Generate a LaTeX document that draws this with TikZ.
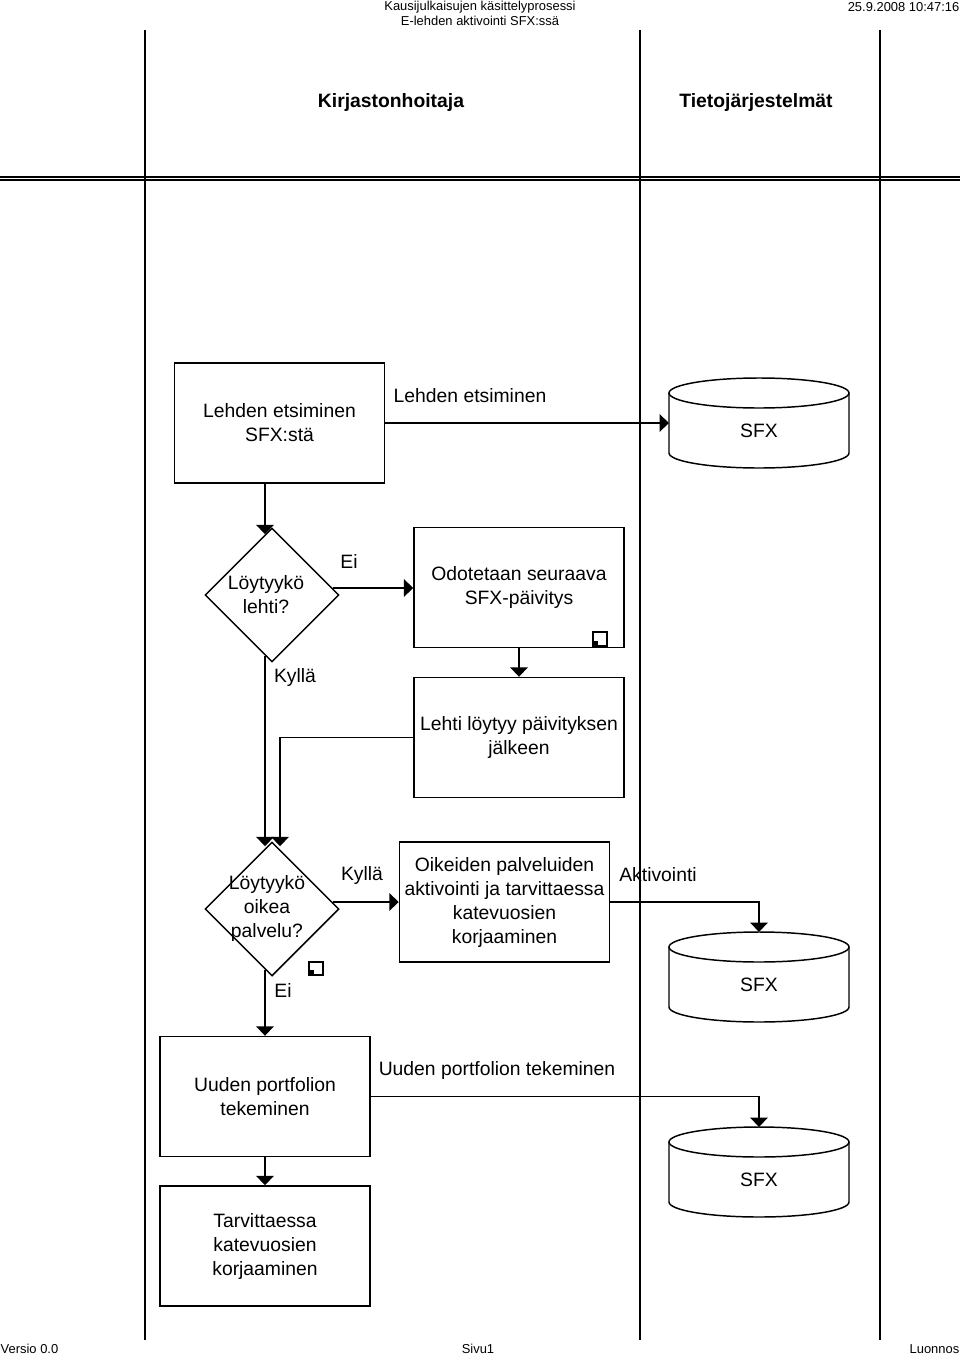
\documentclass[tikz,border=0pt]{standalone}
\usepackage{fontspec}
\setmainfont{Liberation Sans}
\usetikzlibrary{shapes.geometric,arrows.meta}
\newcommand\myfs{\fontsize{14.5pt}{18pt}\selectfont}
\newcommand\mysmall{\fontsize{9.7pt}{11pt}\selectfont}
\newcommand\mycyl[3]{%
  \node[cylbox] (#1) at (#2,#3) {};
  \node[txt] (#1t) at ([yshift=-6pt]#1.center) {SFX};
  \draw ([yshift=-11.25pt]#1.north) ellipse [x radius=67.5pt, y radius=11.25pt];
  \draw ([yshift=-11.25pt]#1.north west) -- ([yshift=11.25pt]#1.south west)
    arc[start angle=180, end angle=360, x radius=67.5pt, y radius=11.25pt]
    -- ([yshift=-11.25pt]#1.north east);
}
\begin{document}
\begin{tikzpicture}[x=0.75pt,y=-0.75pt, line width=1.1pt,
  box/.style={draw, minimum width=157.5pt, minimum height=90pt, inner sep=0pt, align=center, font=\myfs},
  dia/.style={draw, diamond, minimum width=100.5pt, minimum height=100.5pt, inner sep=0pt},
  cylbox/.style={minimum width=135pt, minimum height=67.5pt, inner sep=0pt, outer sep=0pt},
  txt/.style={inner sep=0pt, align=center, font=\myfs},
  head/.style={inner sep=0pt, font=\myfs\bfseries},
  small/.style={inner sep=0pt, font=\mysmall},
  arr/.style={-{Triangle[length=7pt,width=13pt]}},
  lane/.style={line width=1.1pt}]
\useasboundingbox (0,0) rectangle (960,1356);

% lanes
\draw[lane] (145,30) -- (145,1340);
\draw[lane] (640,30) -- (640,1340);
\draw[lane] (880,30) -- (880,1340);
\draw[line width=0.9pt] (0,177) -- (960,177);
\draw[line width=0.9pt] (0,180) -- (960,180);

% header / footer texts
\node[small] (t1) at (480,7) {Kausijulkaisujen käsittelyprosessi};
\node[small] (t2) at (480,21) {E-lehden aktivointi SFX:ssä};
\node[small, anchor=east] (t3) at (960,7) {25.9.2008 10:47:16};
\node[head] (h1) at (391,103) {Kirjastonhoitaja};
\node[head] (h2) at (756,103) {Tietojärjestelmät};
\node[small, anchor=west] (f1) at (0,1349) {Versio 0.0};
\node[small] (f2) at (478,1349) {Sivu1};
\node[small, anchor=east] (f3) at (960,1349) {Luonnos};

% nodes
\node[box] (b1) at (279.5,423) {Lehden etsiminen\\SFX:stä};
\node[box] (b2) at (519,587.5) {Odotetaan seuraava\\SFX-päivitys};
\node[box] (b3) at (519,737.5) {Lehti löytyy päivityksen\\jälkeen};
\node[box] (b4) at (504.5,902) {Oikeiden palveluiden\\aktivointi ja tarvittaessa\\katevuosien\\korjaaminen};
\node[box] (b5) at (265,1096.5) {Uuden portfolion\\tekeminen};
\node[box] (b6) at (265,1246) {Tarvittaessa\\katevuosien\\korjaaminen};

\node[dia] (d1) at (272,595) {};
\node[txt] (d1t) at (266,595) {Löytyykö\\lehti?};
\node[dia] (d2) at (272,909) {};
\node[txt] (d2t) at (267,908) {Löytyykö\\oikea\\palvelu?};

\mycyl{cy1}{759}{423}
\mycyl{cy2}{759}{977}
\mycyl{cy3}{759}{1172}

% connection points
\coordinate (k1) at ([xshift=-5.25pt,yshift=-5.25pt]d1.north);
\coordinate (k2) at ([xshift=-5.25pt,yshift=5.25pt]d1.east);
\coordinate (k3) at ([xshift=-5.25pt,yshift=5.25pt]d1.south);
\coordinate (k4) at ([xshift=-5.25pt,yshift=-3.75pt]d2.north);
\coordinate (k5) at ([xshift=6pt,yshift=-3.75pt]d2.north);
\coordinate (k6) at ([xshift=-5.25pt,yshift=5.25pt]d2.east);
\coordinate (k7) at ([xshift=-5.25pt,yshift=5.25pt]d2.south);

% connectors
\draw[arr] (b1.east) -- (cy1.west);
\draw[arr] (b1.south -| k1) -- (k1);
\draw[arr] (k2) -- (b2.west |- k2);
\draw[arr] (b2.south) -- (b3.north);
\draw[arr] (k3) -- (k4);
\draw[arr] (b3.west) -| (k5);
\draw[arr] (k6) -- (b4.west |- k6);
\draw[arr] (b4.east) -| (cy2.north);
\draw[arr] (k7) -- (b5.north |- k7) -- (b5.north);
\draw[arr] (b5.south) -- (b6.north);
\draw[arr] (b5.east) -| (cy3.north);

% connector labels
\node[txt] (l1) at (470,396) {Lehden etsiminen};
\node[txt] (l2) at (349,561) {Ei};
\node[txt] (l3) at (295,677) {Kyllä};
\node[txt] (l4) at (362,875) {Kyllä};
\node[txt] (l5) at (658,875) {Aktivointi};
\node[txt] (l6) at (283,990) {Ei};
\node[txt] (l7) at (497,1070) {Uuden portfolion tekeminen};

% link icons
\draw[line width=0.8pt] (593,632) rectangle (607,646);
\fill (594,641) rectangle (598,645);
\draw[line width=0.8pt] (309,962) rectangle (323,975);
\fill (310,970) rectangle (314,974);
\end{tikzpicture}
\end{document}
